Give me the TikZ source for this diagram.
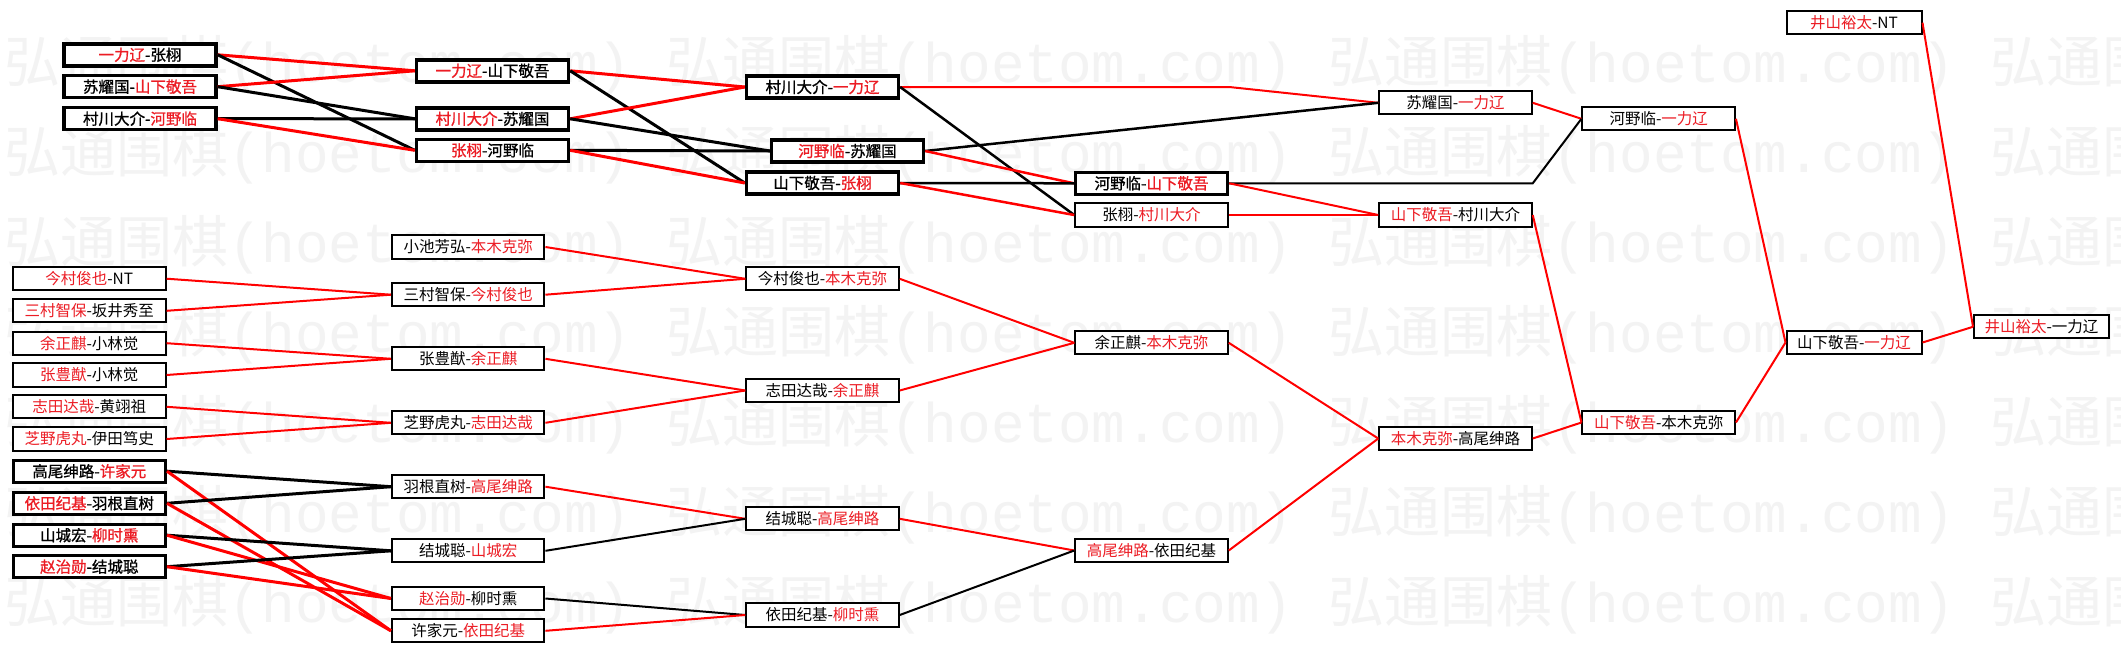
\documentclass[tikz,border=0pt]{standalone}
\usepackage{fontspec}
\newfontfamily\cjk{Noto Sans CJK SC}
\newfontfamily\cjkb[FakeBold=1]{Noto Sans CJK SC}
\newfontfamily\wmmono{Liberation Mono}
\definecolor{wred}{RGB}{236,28,36}
\definecolor{lred}{RGB}{255,0,0}
\definecolor{wmark}{RGB}{243,243,243}
\newcommand\rd[1]{\textcolor{wred}{#1}}
\begin{document}
\begin{tikzpicture}[x=1pt,y=-1pt,
  nb/.style={draw=black,line width=2pt,fill=white,inner sep=0pt,minimum width=152.5pt,minimum height=23.3pt,font=\cjk\fontsize{15.5}{18}\selectfont},
  tb/.style={draw=black,line width=3.4pt,fill=white,inner sep=0pt,minimum width=152pt,minimum height=22pt,font=\cjkb\fontsize{15.5}{18}\selectfont},
  narrow/.style={minimum width=135pt},
  rl/.style={draw=lred,line width=2pt},
  bl/.style={draw=black,line width=2pt},
  thk/.style={line width=3pt},
  med/.style={line width=2.5pt},
  wm/.style={text=wmark,anchor=west,inner sep=0pt,font=\cjk\fontsize{56}{60}\selectfont}
]
\useasboundingbox (0,0) rectangle (2121,653);
\fill[white] (0,0) rectangle (2121,653);
\begin{scope}
\clip (0,0) rectangle (2121,653);
\foreach \yy in {65,155,245,335,425,515,605}{
  \foreach \xx in {4,666,1328,1990}{
    \node[wm] at (\xx,\yy) {弘通围棋{\wmmono (hoetom.com)}};
  }
}
\end{scope}
% top group
\node[tb] (A1) at (140,54.8) {\rd{一力辽}-张栩};
\node[tb] (A2) at (140,86.7) {苏耀国-\rd{山下敬吾}};
\node[tb] (A3) at (140,118.7) {村川大介-\rd{河野临}};
\node[tb] (B1) at (492.5,70.8) {\rd{一力辽}-山下敬吾};
\node[tb] (B2) at (492.5,118.8) {\rd{村川大介}-苏耀国};
\node[tb] (B3) at (492.5,150.3) {\rd{张栩}-河野临};
\node[tb] (C1) at (822.5,87) {村川大介-\rd{一力辽}};
\node[tb] (C2) at (847.5,151) {\rd{河野临}-苏耀国};
\node[tb] (C3) at (822.5,183) {山下敬吾-\rd{张栩}};
\node[tb] (D2) at (1151.5,183.3) {河野临-\rd{山下敬吾}};
\node[nb] (D3) at (1151.5,215) {张栩-\rd{村川大介}};
\node[nb] (D1) at (1455.5,102.8) {苏耀国-\rd{一力辽}};
\node[nb] (D4) at (1455.5,215) {\rd{山下敬吾}-村川大介};
\node[nb] (E1) at (1658.7,118.8) {河野临-\rd{一力辽}};
\node[nb,narrow] (I) at (1854,22.7) {\rd{井山裕太}-NT};
\node[nb,narrow] (G) at (1854,342.5) {山下敬吾-\rd{一力辽}};
\node[nb,narrow] (H) at (2041.5,326.8) {\rd{井山裕太}-一力辽};
\node[nb] (F) at (1658.7,422.5) {\rd{山下敬吾}-本木克弥};
\node[nb] (Q) at (1455.5,438.5) {\rd{本木克弥}-高尾绅路};
% lower group
\node[nb] (L1) at (89.3,278.7) {\rd{今村俊也}-NT};
\node[nb] (L2) at (89.3,310.8) {\rd{三村智保}-坂井秀至};
\node[nb] (L3) at (89.3,343.2) {\rd{余正麒}-小林觉};
\node[nb] (L4) at (89.3,375) {\rd{张豊猷}-小林觉};
\node[nb] (L5) at (89.3,406.8) {\rd{志田达哉}-黄翊祖};
\node[nb] (L6) at (89.3,439) {\rd{芝野虎丸}-伊田笃史};
\node[tb] (L7) at (89.3,471.2) {高尾绅路-\rd{许家元}};
\node[tb] (L8) at (89.3,503.3) {\rd{依田纪基}-羽根直树};
\node[tb] (L9) at (89.3,535.2) {山城宏-\rd{柳时熏}};
\node[tb] (L10) at (89.3,566.7) {\rd{赵治勋}-结城聪};
\node[nb] (M1) at (468.2,247) {小池芳弘-\rd{本木克弥}};
\node[nb] (M2) at (468.2,294.7) {三村智保-\rd{今村俊也}};
\node[nb] (M3) at (468.2,358.8) {张豊猷-\rd{余正麒}};
\node[nb] (M4) at (468.2,422.8) {芝野虎丸-\rd{志田达哉}};
\node[nb] (M5) at (468.2,486.7) {羽根直树-\rd{高尾绅路}};
\node[nb] (M6) at (468.2,550.8) {结城聪-\rd{山城宏}};
\node[nb] (M7) at (468.2,598.5) {\rd{赵治勋}-柳时熏};
\node[nb] (M8) at (468.2,630.8) {许家元-\rd{依田纪基}};
\node[nb] (N1) at (822.5,278.8) {今村俊也-\rd{本木克弥}};
\node[nb] (N2) at (822.5,390.5) {志田达哉-\rd{余正麒}};
\node[nb] (N3) at (822.5,518.8) {结城聪-\rd{高尾绅路}};
\node[nb] (N4) at (822.5,615) {依田纪基-\rd{柳时熏}};
\node[nb] (P1) at (1151.5,342.8) {余正麒-\rd{本木克弥}};
\node[nb] (P2) at (1151.5,550.5) {\rd{高尾绅路}-依田纪基};
% connectors top
\draw[rl,thk] (A1.east) -- (B1.west);
\draw[bl,thk] (A1.east) -- (B3.west);
\draw[rl,thk] (A2.east) -- (B1.west);
\draw[bl,thk] (A2.east) -- (B2.west);
\draw[bl,thk] (A3.east) -- (B2.west);
\draw[rl,thk] (A3.east) -- (B3.west);
\draw[rl,thk] (B1.east) -- (C1.west);
\draw[bl,thk] (B1.east) -- (C3.west);
\draw[rl,thk] (B2.east) -- (C1.west);
\draw[bl,thk] (B2.east) -- (C2.west);
\draw[bl,thk] (B3.east) -- (C2.west);
\draw[rl,thk] (B3.east) -- (C3.west);
\draw[rl] (C1.east) -- (D2.east |- C1.east) -- (D1.west);
\draw[bl,med] (C1.east) -- (D3.west);
\draw[bl,med] (C2.east) -- (D1.west);
\draw[rl,med] (C2.east) -- (D2.west);
\draw[bl,med] (C3.east) -- (D2.west);
\draw[rl,med] (C3.east) -- (D3.west);
\draw[rl] (D1.east) -- (E1.west);
\draw[bl] (D2.east) -- (D1.east |- D2.east) -- (E1.west);
\draw[rl] (D2.east) -- (D4.west);
\draw[rl] (D3.east) -- (D4.west);
\draw[rl] (D4.east) -- (F.west);
\draw[rl] (E1.east) -- (G.west);
\draw[rl] (F.east) -- (G.west);
\draw[rl] (G.east) -- (H.west);
\draw[rl] (I.east) -- (H.west);
% connectors lower
\draw[rl] (L1.east) -- (M2.west);
\draw[rl] (L2.east) -- (M2.west);
\draw[rl] (L3.east) -- (M3.west);
\draw[rl] (L4.east) -- (M3.west);
\draw[rl] (L5.east) -- (M4.west);
\draw[rl] (L6.east) -- (M4.west);
\draw[bl,thk] (L7.east) -- (M5.west);
\draw[rl,thk] (L7.east) -- (M8.west);
\draw[bl,thk] (L8.east) -- (M5.west);
\draw[rl,thk] (L8.east) -- (M8.west);
\draw[bl,thk] (L9.east) -- (M6.west);
\draw[rl,thk] (L9.east) -- (M7.west);
\draw[bl,thk] (L10.east) -- (M6.west);
\draw[rl,thk] (L10.east) -- (M7.west);
\draw[rl] (M1.east) -- (N1.west);
\draw[rl] (M2.east) -- (N1.west);
\draw[rl] (M3.east) -- (N2.west);
\draw[rl] (M4.east) -- (N2.west);
\draw[rl] (M5.east) -- (N3.west);
\draw[bl] (M6.east) -- (N3.west);
\draw[bl] (M7.east) -- (N4.west);
\draw[rl] (M8.east) -- (N4.west);
\draw[rl] (N1.east) -- (P1.west);
\draw[rl] (N2.east) -- (P1.west);
\draw[rl] (N3.east) -- (P2.west);
\draw[bl] (N4.east) -- (P2.west);
\draw[rl] (P1.east) -- (Q.west);
\draw[rl] (P2.east) -- (Q.west);
\draw[rl] (Q.east) -- (F.west);
\end{tikzpicture}
\end{document}
